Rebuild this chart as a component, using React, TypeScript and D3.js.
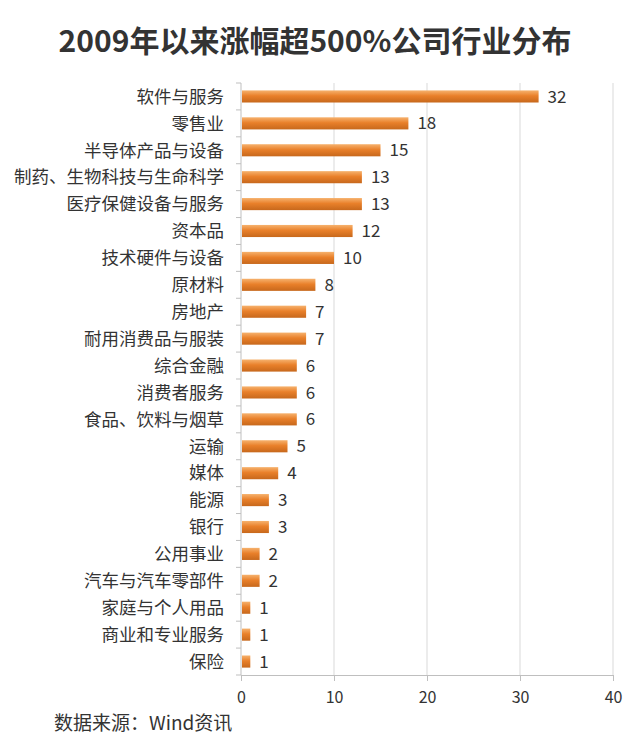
import React, { useEffect, useRef } from 'react';
import * as d3 from 'd3';

const categories = [
  '软件与服务', '零售业', '半导体产品与设备', '制药、生物科技与生命科学', '医疗保健设备与服务',
  '资本品', '技术硬件与设备', '原材料', '房地产', '耐用消费品与服装', '综合金融', '消费者服务',
  '食品、饮料与烟草', '运输', '媒体', '能源', '银行', '公用事业', '汽车与汽车零部件',
  '家庭与个人用品', '商业和专业服务', '保险',
];
const counts = [32, 18, 15, 13, 13, 12, 10, 8, 7, 7, 6, 6, 6, 5, 4, 3, 3, 2, 2, 1, 1, 1];
const xTicks = [0, 10, 20, 30, 40];

const App = () => {
  const svgRef = useRef<SVGSVGElement>(null);

  useEffect(() => {
    const width = 640;
    const height = 749;
    const margin = { top: 83, right: 27, bottom: 74, left: 241 };
    const font = '"Noto Sans CJK SC", "Noto Sans", sans-serif';
    const textColor = '#333';

    const svg = d3.select(svgRef.current);
    svg.selectAll('*').remove();
    svg.attr('width', width).attr('height', height).attr('viewBox', `0 0 ${width} ${height}`);

    svg.append('rect').attr('width', width).attr('height', height).attr('fill', '#fff');

    const defs = svg.append('defs');
    const grad = defs.append('linearGradient')
      .attr('id', 'barGrad').attr('x1', 0).attr('y1', 0).attr('x2', 0).attr('y2', 1);
    grad.append('stop').attr('offset', '0%').attr('stop-color', '#f6b26e');
    grad.append('stop').attr('offset', '45%').attr('stop-color', '#e9802a');
    grad.append('stop').attr('offset', '100%').attr('stop-color', '#c7681c');

    const x = d3.scaleLinear().domain([0, 40]).range([margin.left, width - margin.right]);
    const y = d3.scaleBand()
      .domain(categories)
      .range([margin.top, height - margin.bottom])
      .paddingInner(0.55)
      .paddingOuter(0.275);

    const bottom = height - margin.bottom;

    // Title
    svg.append('text')
      .attr('x', 315).attr('y', 52)
      .attr('text-anchor', 'middle')
      .style('font-family', font).style('font-size', '30px').style('font-weight', 'bold')
      .attr('fill', textColor)
      .text('2009年以来涨幅超500%公司行业分布');

    // Grid lines
    svg.append('g')
      .selectAll('line')
      .data(xTicks.slice(1))
      .enter()
      .append('line')
      .attr('x1', d => x(d)).attr('x2', d => x(d))
      .attr('y1', margin.top).attr('y2', bottom)
      .attr('stroke', '#d9d9d9');

    // X axis
    const xAxis = svg.append('g')
      .attr('transform', `translate(0,${bottom})`)
      .call(d3.axisBottom(x).tickValues(xTicks).tickSize(6).tickPadding(11));
    xAxis.select('.domain').attr('stroke', '#bfbfbf');
    xAxis.selectAll('.tick line').attr('stroke', '#bfbfbf');
    xAxis.selectAll('text')
      .style('font-family', font).style('font-size', '16px').attr('fill', textColor);

    // Y axis line and ticks between categories
    svg.append('line')
      .attr('x1', margin.left).attr('x2', margin.left)
      .attr('y1', margin.top).attr('y2', bottom)
      .attr('stroke', '#bfbfbf');
    const step = y.step();
    svg.append('g')
      .selectAll('line')
      .data(d3.range(categories.length + 1))
      .enter()
      .append('line')
      .attr('x1', margin.left - 5).attr('x2', margin.left)
      .attr('y1', i => margin.top + i * step).attr('y2', i => margin.top + i * step)
      .attr('stroke', '#bfbfbf');

    // Category labels
    svg.append('g')
      .selectAll('text')
      .data(categories)
      .enter()
      .append('text')
      .attr('x', margin.left - 17)
      .attr('y', d => (y(d) as number) + y.bandwidth() / 2)
      .attr('dy', '0.36em')
      .attr('text-anchor', 'end')
      .style('font-family', font).style('font-size', '17.5px')
      .attr('fill', textColor)
      .text(d => d);

    // Bars
    svg.append('g')
      .selectAll('rect')
      .data(categories)
      .enter()
      .append('rect')
      .attr('x', x(0) + 1)
      .attr('y', d => y(d) as number)
      .attr('width', (d, i) => x(counts[i]) - x(0) - 1)
      .attr('height', y.bandwidth())
      .attr('fill', 'url(#barGrad)');

    // Value labels
    svg.append('g')
      .selectAll('text')
      .data(categories)
      .enter()
      .append('text')
      .attr('x', (d, i) => x(counts[i]) + 9)
      .attr('y', d => (y(d) as number) + y.bandwidth() / 2)
      .attr('dy', '0.36em')
      .style('font-family', font).style('font-size', '17px')
      .attr('fill', textColor)
      .text((d, i) => counts[i]);

    // Source
    svg.append('text')
      .attr('x', 54).attr('y', 730)
      .style('font-family', font).style('font-size', '19px')
      .attr('fill', textColor)
      .text('数据来源：Wind资讯');
  }, []);

  return <svg ref={svgRef} style={{ position: 'absolute', left: 0, top: 0, display: 'block' }} />;
};

export default App;
